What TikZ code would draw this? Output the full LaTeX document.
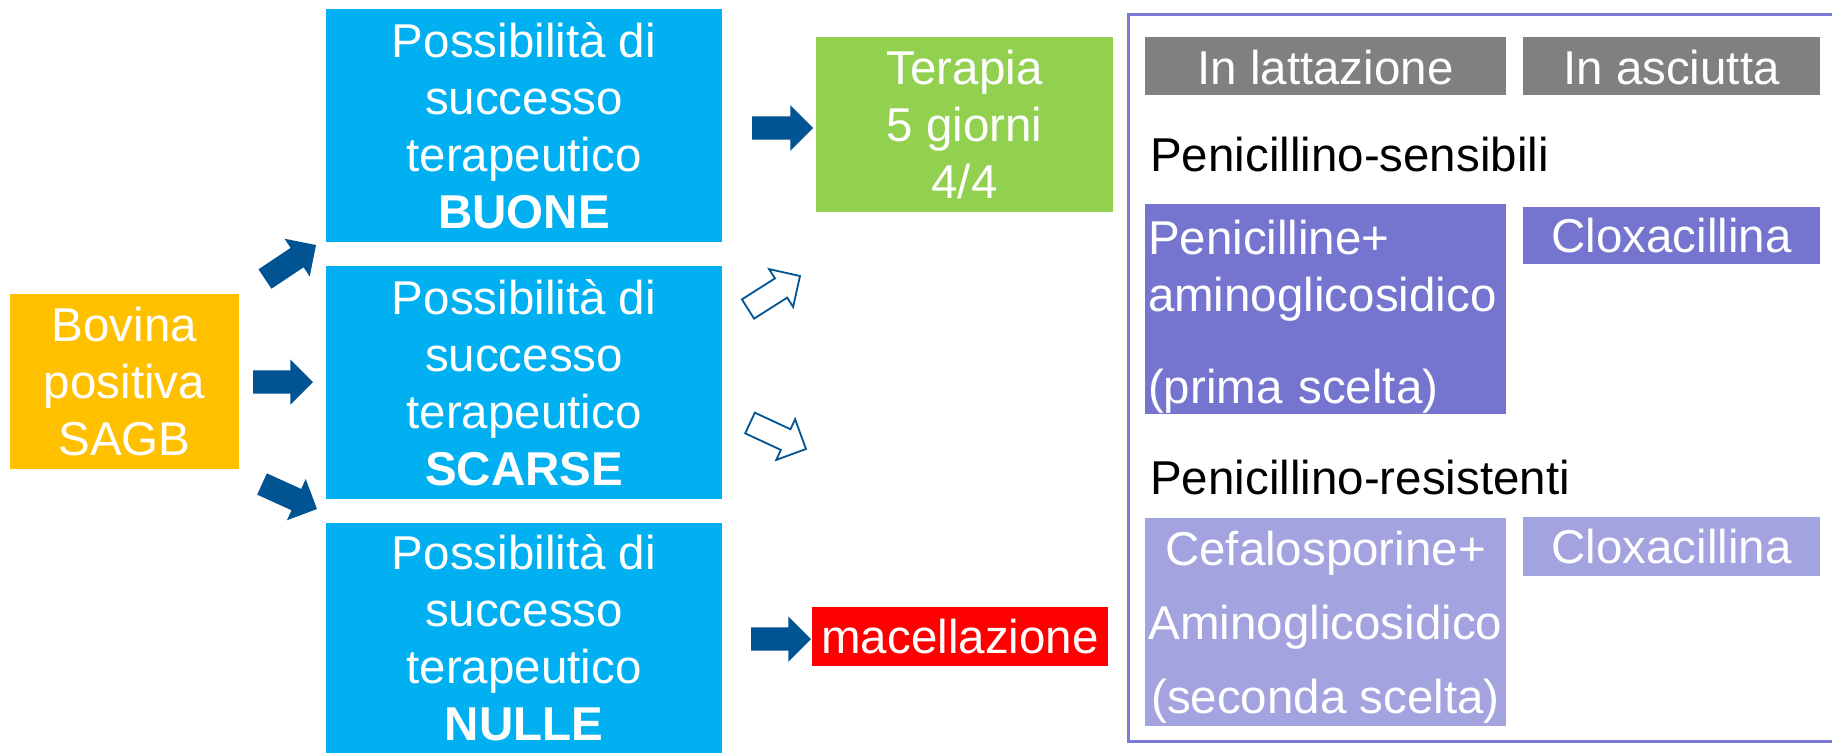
\documentclass[tikz,border=0pt]{standalone}
\usepackage{fontspec}
\setmainfont{Liberation Sans}
\usetikzlibrary{shapes.arrows,calc}
\definecolor{sagbora}{RGB}{255,192,0}
\definecolor{sagbblue}{RGB}{0,176,240}
\definecolor{sagbgreen}{RGB}{146,208,80}
\definecolor{sagbred}{RGB}{255,0,0}
\definecolor{sagbdark}{RGB}{0,84,147}
\definecolor{sagbgray}{RGB}{128,128,128}
\definecolor{sagbpurple}{RGB}{117,117,208}
\definecolor{sagblilac}{RGB}{163,163,224}
\definecolor{sagbframe}{RGB}{122,122,214}
\newcommand{\bigfont}{\fontsize{47.5}{57}\selectfont}
\newcommand{\widefont}{\fontsize{47.5}{74}\selectfont}
\newcommand{\shafts}{11.5pt}
\newcommand{\heads}{11pt}
% block arrow from tail point to tip point
\newcommand{\fatarrow}[4]{%
        \path let \p1=(#3), \p2=(#4), \n1={atan2(\y2-\y1,\x2-\x1)}, \n2={veclen(\x2-\x1,\y2-\y1)} in
                node[#1, minimum height=\n2, rotate=\n1, anchor=tail] (#2) at (\p1) {};}

\begin{document}
\begin{tikzpicture}[x=1pt,y=-1pt,
                box/.style={fill=#1, text=white, font=\bigfont, align=center, inner sep=0pt, outer sep=0pt},
                blockarr/.style={single arrow, single arrow head extend=\heads, inner xsep=0pt, inner ysep=\shafts, outer sep=0pt},
                darkarr/.style={blockarr, fill=sagbdark},
                openarr/.style={blockarr, inner ysep=10.5pt, draw=sagbdark, fill=white, line width=1.8pt}]
                %\draw[help lines] (0,0) grid (1832,753);
                \useasboundingbox[fill=white] (0,0) rectangle (1832,753);
                \node[box=sagbora, minimum width=229, minimum height=175] (bovina) at (124.5,381.5) {Bovina\\positiva\\SAGB};
                \node[box=sagbblue, minimum width=396, minimum height=233] (buone) at (524,125.5) {Possibilità di\\successo\\terapeutico\\\textbf{BUONE}};
                \node[box=sagbblue, minimum width=396, minimum height=233] (scarse) at (524,382.5) {Possibilità di\\successo\\terapeutico\\\textbf{SCARSE}};
                \node[box=sagbblue, minimum width=396, minimum height=230] (nulle) at (524,638) {Possibilità di\\successo\\terapeutico\\\textbf{NULLE}};
                \node[box=sagbgreen, minimum width=297, minimum height=175] (terapia) at (964.5,124.5) {Terapia\\5 giorni\\4/4};
                \node[box=sagbred, minimum width=296, minimum height=59] (macello) at (960,636.5) {macellazione};
                % right panel, open on the right side
                \node[minimum width=703, minimum height=726, inner sep=0pt] (panel) at (1480.5,378) {};
                \draw[sagbframe, line width=3pt] (panel.north east) -- (panel.north west) -- (panel.south west) -- (panel.south east);
                \node[box=sagbgray, minimum width=361, minimum height=58] (latt) at (1325.5,66) {\rule{0pt}{38pt}In lattazione};
                \node[box=sagbgray, minimum width=297, minimum height=58] (asci) at (1671.5,66) {\rule{0pt}{38pt}In asciutta};
                \node[font=\bigfont, anchor=west, inner sep=0pt] (sens) at (1150,155) {Penicillino-sensibili};
                \node[box=sagbpurple, minimum width=361, minimum height=210, align=left, text width=355] (penic) at (1325.5,309) {\rule{0pt}{49pt}Penicilline+\\aminoglicosidico\\[35pt](prima scelta)};
                \node[box=sagbpurple, minimum width=297, minimum height=57] (clox) at (1671.5,235.5) {Cloxacillina};
                \node[font=\bigfont, anchor=west, inner sep=0pt] (resist) at (1150,478) {Penicillino-resistenti};
                \node[box=sagblilac, font=\widefont, minimum width=361, minimum height=208] (cefal) at (1325.5,622) {\rule{0pt}{45pt}Cefalosporine+\\Aminoglicosidico\\(seconda scelta)};
                \node[box=sagblilac, minimum width=297, minimum height=59] (cloxb) at (1671.5,546.5) {Cloxacillina};
                % arrows
                \fatarrow{darkarr}{a1}{$(bovina.north east)+(26,-15)$}{$(buone.south west)+(-10,3)$}
                \fatarrow{darkarr}{a2}{$(bovina.east)+(14,0.5)$}{$(scarse.west)+(-13,-0.5)$}
                \fatarrow{darkarr}{a3}{$(bovina.south east)+(23,15)$}{$(nulle.north west)+(-9,-14)$}
                \fatarrow{darkarr}{a4}{$(buone.east)+(30,2.5)$}{$(terapia.west)+(-3,3.5)$}
                \fatarrow{darkarr}{a5}{$(nulle.east)+(29,1)$}{$(macello.west)+(-1,2.5)$}
                \coordinate (up) at (800,276);
                \coordinate (down) at (806,449);
                \fatarrow{openarr}{o1}{$(scarse.east)+(26,-73.5)$}{up}
                \fatarrow{openarr}{o2}{$(scarse.east)+(28,40.5)$}{down}
\end{tikzpicture}
\end{document}
